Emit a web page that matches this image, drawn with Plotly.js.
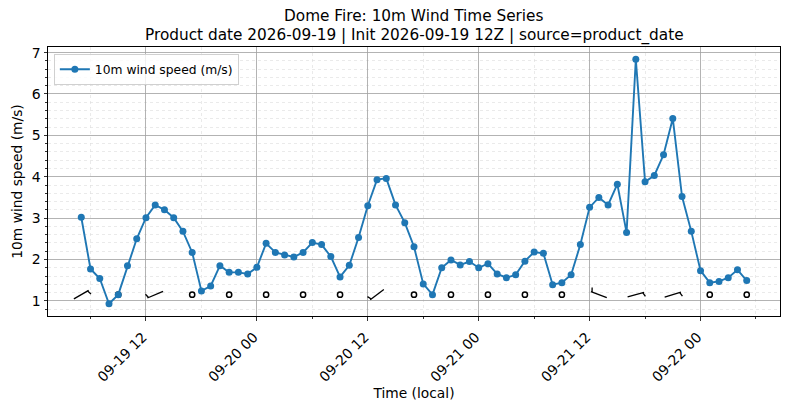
<!DOCTYPE html>
<html>
<head>
<meta charset="utf-8">
<script src="https://cdn.plot.ly/plotly-3.0.1.min.js"></script>
<style>html,body{margin:0;padding:0;background:#fff;}#chart{width:789px;height:409px;}</style>
</head>
<body>
<div id="chart"></div>
<script>
// ---- data ----
const startTime = "2026-09-19T05:00:00Z";   // first hourly sample (local time label)
const stepHours = 1;
const windSpeed = [
  3.02, 1.77, 1.54, 0.93, 1.15, 1.85, 2.50, 3.01, 3.32, 3.20, 3.01, 2.68,
  2.17, 1.24, 1.36, 1.85, 1.69, 1.69, 1.65, 1.81, 2.39, 2.17, 2.11, 2.06,
  2.17, 2.41, 2.36, 2.07, 1.58, 1.86, 2.53, 3.30, 3.93, 3.96, 3.32, 2.89,
  2.31, 1.41, 1.15, 1.80, 1.99, 1.87, 1.95, 1.80, 1.90, 1.65, 1.56, 1.63,
  1.96, 2.18, 2.15, 1.39, 1.44, 1.63, 2.36, 3.26, 3.50, 3.32, 3.82, 2.65,
  6.84, 3.88, 4.03, 4.53, 5.41, 3.52, 2.68, 1.73, 1.44, 1.47, 1.56, 1.75,
  1.49
];
const barbEvery = 4;           // one barb every 4 samples
const barbLevel = 1.15;        // y level of barb row
// wind-from direction (deg) at each barb time, null where calm
const barbDir = [60, null, 247, null, null, null, null, null, 233, null,
                 null, null, null, null, 291, 75, 73, null, null];
const calmThreshold = 2.5;
const tickLabelFormat = "%m-%d %H";
const titleLines = ["Dome Fire: 10m Wind Time Series",
                    "Product date 2026-09-19 | Init 2026-09-19 12Z | source=product_date"];

// ---- layout geometry ----
const W = 789, H = 409;
const M = {l: 48, r: 9, t: 47, b: 93};
const plotW = W - M.l - M.r, plotH = H - M.t - M.b;

const HOUR = 3600000;
const t0 = Date.parse(startTime);
const times = windSpeed.map((_, i) => t0 + i * stepHours * HOUR);
const tMin = times[0], tMax = times[times.length - 1];
const xPad = (tMax - tMin) * 0.05;
const xRange = [tMin - xPad, tMax + xPad];
const yMin = Math.min(...windSpeed), yMax = Math.max(...windSpeed);
const yPad = (yMax - yMin) * 0.05;
const yRange = [yMin - yPad, yMax + yPad];

const pxPerMs = plotW / (xRange[1] - xRange[0]);
const pxPerY = plotH / (yRange[1] - yRange[0]);

// ---- build barbs ----
const bx = [], by = [], cx = [], cy = [];
const half = 8.5, tickBack = 1.2, tickOut = 4.2, tickFwd = 1.5;
barbDir.forEach((d, k) => {
  const idx = k * barbEvery;
  const t = times[idx];
  const s = windSpeed[idx];
  if (d === null || s < calmThreshold) { cx.push(t); cy.push(barbLevel); return; }
  const r = d * Math.PI / 180;
  const ux = Math.sin(r), uy = Math.cos(r);      // toward flag end (screen, up positive)
  const rx = uy, ry = -ux;                        // right-hand perpendicular
  const P = (px, py) => [t + px / pxPerMs, barbLevel + py / pxPerY];
  const tail = P(-half * ux, -half * uy);
  const tip = P(half * ux, half * uy);
  const base = [(half - tickBack) * ux, (half - tickBack) * uy];
  const tb = P(base[0], base[1]);
  const te = P(base[0] + tickOut * rx + tickFwd * ux, base[1] + tickOut * ry + tickFwd * uy);
  bx.push(tail[0], tip[0], null, tb[0], te[0], null);
  by.push(tail[1], tip[1], null, tb[1], te[1], null);
});

const font = "DejaVu Sans, Verdana, sans-serif";
const FS = 14;
const TFS = 15.3;

const traces = [
  {x: bx, y: by, mode: "lines", line: {color: "#000", width: 1.3}, showlegend: false, hoverinfo: "skip"},
  {x: cx, y: cy, mode: "markers", marker: {symbol: "circle-open", size: 5.2, color: "#000", line: {width: 1.5, color: "#000"}}, showlegend: false, hoverinfo: "skip"},
  {x: times, y: windSpeed, mode: "lines+markers", name: "10m wind speed (m/s)",
   line: {color: "#1f77b4", width: 1.9}, marker: {color: "#1f77b4", size: 7}}
];

const layout = {
  width: W, height: H,
  margin: M,
  paper_bgcolor: "#fff", plot_bgcolor: "#fff",
  font: {family: font, size: FS, color: "#000"},
  annotations: [
    {text: titleLines[0], xref: "paper", yref: "paper", x: 0.5, xanchor: "center",
     y: 1 + (M.t - 16.5) / plotH, yanchor: "middle", showarrow: false, font: {family: font, size: TFS}},
    {text: titleLines[1], xref: "paper", yref: "paper", x: 0.5, xanchor: "center",
     y: 1 + (M.t - 35) / plotH, yanchor: "middle", showarrow: false, font: {family: font, size: TFS}}
  ],
  xaxis: {
    type: "date", range: xRange, tickformat: tickLabelFormat,
    tick0: Date.UTC(2026, 8, 19, 0), dtick: 12 * HOUR, tickangle: -45,
    ticks: "outside", ticklen: 3.5, tickwidth: 0.8, tickcolor: "#000",
    ticklabelstandoff: 3, ticklabelshift: -3,
    showgrid: true, gridcolor: "#a0a0a0", gridwidth: 0.8,
    showline: true, linecolor: "#000", linewidth: 1, mirror: true,
    zeroline: false,
    tickfont: {family: font, size: FS},
    minor: {dtick: 6 * HOUR, tick0: Date.UTC(2026, 8, 19, 0), ticks: "outside", ticklen: 2, tickcolor: "#000",
            showgrid: true, gridcolor: "#dcdcdc", griddash: "dot", gridwidth: 0.6},
    title: {text: "Time (local)", font: {family: font, size: 13.8}, standoff: 1},
    automargin: false
  },
  yaxis: {
    range: yRange, dtick: 1, tick0: 0,
    ticks: "outside", ticklen: 3.5, tickwidth: 0.8, tickcolor: "#000",
    showgrid: true, gridcolor: "#a0a0a0", gridwidth: 0.8,
    showline: true, linecolor: "#000", linewidth: 1, mirror: true,
    zeroline: false,
    tickfont: {family: font, size: FS},
    minor: {dtick: 0.2, ticks: "outside", ticklen: 2, tickcolor: "#000",
            showgrid: true, gridcolor: "#dcdcdc", griddash: "dot", gridwidth: 0.6},
    title: {text: "10m wind speed (m/s)", font: {family: font, size: 13.8}, standoff: 5},
    automargin: false
  },
  legend: {x: 0.008, y: 0.975, xanchor: "left", yanchor: "top", bgcolor: "rgba(255,255,255,0.8)",
           bordercolor: "#d0d0d0", borderwidth: 1, font: {family: font, size: 12.3},
           itemwidth: 30, tracegroupgap: 0},
  showlegend: true
};

Plotly.newPlot("chart", traces, layout, {displayModeBar: false, staticPlot: true});
</script>
</body>
</html>
